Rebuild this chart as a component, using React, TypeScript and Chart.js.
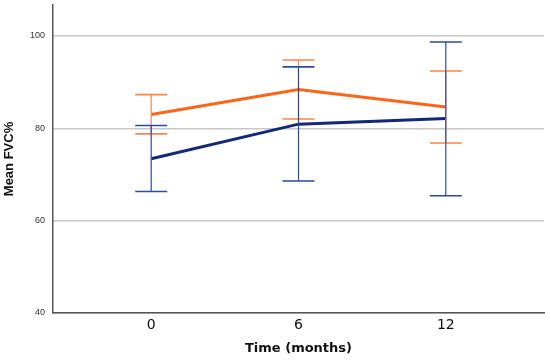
import React, { useEffect, useRef } from "react";
import { Chart, registerables } from "chart.js";

Chart.register(...registerables);

const MONTHS = [0, 6, 12];
const X_TICKS = [0, 6, 12];
const Y_TICKS = [40, 60, 80, 100];

const ORANGE_MEAN = [83.0, 88.4, 84.6];
const ORANGE_LOW = [78.8, 82.0, 76.8];
const ORANGE_HIGH = [87.3, 94.8, 92.4];

const NAVY_MEAN = [73.4, 80.9, 82.1];
const NAVY_LOW = [66.3, 68.6, 65.4];
const NAVY_HIGH = [80.6, 93.3, 98.7];

const ORANGE = "#FF6316";
const ORANGE_BAR = "#F7874A";
const NAVY = "#10297A";
const NAVY_BAR = "#2D4B9C";

const errorBarPlugin = {
  id: "errorBars",
  afterDatasetsDraw(chart: any) {
    const { ctx, scales } = chart;
    const xs = scales.x;
    const ys = scales.y;
    const sets = [
      { low: ORANGE_LOW, high: ORANGE_HIGH, color: ORANGE_BAR },
      { low: NAVY_LOW, high: NAVY_HIGH, color: NAVY_BAR },
    ];
    ctx.save();
    for (const s of sets) {
      MONTHS.forEach((m, i) => {
        const x = xs.getPixelForValue(m);
        const y1 = ys.getPixelForValue(s.low[i]);
        const y2 = ys.getPixelForValue(s.high[i]);
        ctx.strokeStyle = s.color;
        ctx.lineWidth = 1.2;
        ctx.beginPath();
        ctx.moveTo(x, y1);
        ctx.lineTo(x, y2);
        ctx.stroke();
        ctx.lineWidth = 1.6;
        ctx.beginPath();
        ctx.moveTo(x - 16, y1);
        ctx.lineTo(x + 16, y1);
        ctx.moveTo(x - 16, y2);
        ctx.lineTo(x + 16, y2);
        ctx.stroke();
      });
    }
    ctx.restore();
  },
};

export default function App() {
  const ref = useRef<HTMLCanvasElement | null>(null);
  useEffect(() => {
    if (!ref.current) return;
    const chart = new Chart(ref.current, {
      type: "line",
      data: {
        datasets: [
          {
            label: "Group A",
            data: MONTHS.map((m, i) => ({ x: m, y: ORANGE_MEAN[i] })),
            borderColor: ORANGE,
            borderWidth: 3,
            pointRadius: 0,
            fill: false,
            tension: 0,
          },
          {
            label: "Group B",
            data: MONTHS.map((m, i) => ({ x: m, y: NAVY_MEAN[i] })),
            borderColor: NAVY,
            borderWidth: 3,
            pointRadius: 0,
            fill: false,
            tension: 0,
          },
        ],
      },
      options: {
        animation: false,
        responsive: true,
        maintainAspectRatio: false,
        layout: { padding: { top: 5, right: 6, left: 0, bottom: 0 } },
        plugins: { legend: { display: false }, tooltip: { enabled: false } },
        scales: {
          x: {
            type: "linear",
            min: -4,
            max: 16,
            afterBuildTicks: (s: any) => {
              s.ticks = X_TICKS.map((v) => ({ value: v }));
            },
            afterFit: (s: any) => {
              s.height = 49;
              s.paddingLeft = 0;
              s.paddingRight = 0;
            },
            grid: { display: false, drawTicks: false },
            border: { display: true, color: "#555555", width: 1.5 },
            ticks: {
              padding: 4,
              color: "#111111",
              font: { family: "DejaVu Sans", size: 14 },
            },
            title: {
              display: true,
              text: "Time (months)",
              color: "#111111",
              font: { family: "DejaVu Sans", size: 13, weight: "bold" },
              padding: { top: 0, bottom: 6 },
            },
          },
          y: {
            min: 40,
            max: 106.7,
            afterBuildTicks: (s: any) => {
              s.ticks = Y_TICKS.map((v) => ({ value: v }));
            },
            afterFit: (s: any) => {
              s.width = 53;
              s.paddingTop = 0;
              s.paddingBottom = 0;
            },
            grid: { color: "#C8C8C8", lineWidth: 1.5, drawTicks: false },
            border: { display: true, color: "#555555", width: 1.5 },
            ticks: {
              padding: 8,
              color: "#333333",
              font: { family: "Liberation Sans", size: 9 },
            },
            title: {
              display: true,
              text: "Mean FVC%",
              color: "#111111",
              font: { family: "Liberation Sans", size: 13, weight: "bold" },
              padding: { top: 2, bottom: 0 },
            },
          },
        },
      },
      plugins: [errorBarPlugin],
    } as any);
    return () => chart.destroy();
  }, []);
  return (
    <div style={{ position: "absolute", left: 0, top: 0, width: 550, height: 362, background: "#fff" }}>
      <canvas ref={ref} />
    </div>
  );
}
